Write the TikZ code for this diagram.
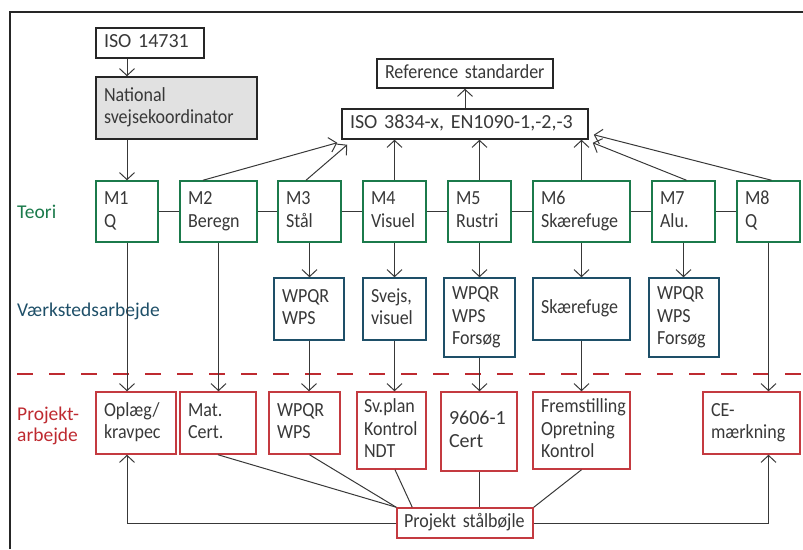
\documentclass[tikz,border=0pt]{standalone}
\usepackage{fontspec}
\setmainfont{Carlito}
\newfontfamily\narrowfont{Carlito}[FakeStretch=0.9]
\usetikzlibrary{arrows.meta,calc}
\definecolor{tgreen}{HTML}{1B7A4B}
\definecolor{tblue}{HTML}{1E4F68}
\definecolor{tred}{HTML}{BE2A30}
\definecolor{rborder}{HTML}{C43A40}
\definecolor{ink}{HTML}{383838}
\definecolor{fillgray}{HTML}{E1E1E1}
\frenchspacing
\begin{document}
\begin{tikzpicture}[x=1pt,y=-1pt,
  bx/.style={draw, rectangle, line width=1.5pt, inner xsep=8pt, inner ysep=0pt,
    align=left, text=ink, font=\narrowfont\fontsize{20}{22.5}\selectfont,
    execute at begin node={\strut\hyphenpenalty=10000\exhyphenpenalty=10000}, execute at end node=\strut},
  wide/.style={font=\fontsize{20}{22.5}\selectfont},
  kbx/.style={bx, draw=black!85},
  gbx/.style={bx, draw=tgreen, minimum height=61pt},
  bbx/.style={bx, draw=tblue},
  rbx/.style={bx, draw=rborder},
  lbl/.style={font=\fontsize{19.5}{21}\selectfont, inner sep=0pt, align=left},
  conn/.style={draw=ink, line width=1pt},
  arr/.style={conn, -{Straight Barb[length=7pt,width=15pt]}},
]
\useasboundingbox (0,0) rectangle (803,549);
% frame
\draw[line width=2pt, black!85] (10,549) -- (10,12) -- (803,12);
% separator
\coordinate (dl) at (17,374);
\coordinate (dr) at (803,374);
\draw[tred, line width=1.2pt, dash pattern=on 16pt off 16pt] (dl) -- (dr);

% top nodes
\node[kbx, wide, text width=92pt, minimum height=30pt] (iso14731) at (150,43) {ISO 14731};
\node[kbx, fill=fillgray, text width=145pt, minimum height=62pt] (natl) at (176.5,108) {National\\svejsekoordinator};
\node[kbx, text width=160pt, minimum height=29pt] (ref) at (465,73.5) {Reference standarder};
\node[kbx, wide, text width=230pt, minimum height=30pt] (iso) at (465,124) {ISO 3834-x, EN1090-1,-2,-3};

% Teori row
\node[gbx, text width=46pt] (m1) at (127,211.5) {M1\\Q};
\node[gbx, text width=61pt] (m2) at (218.5,211.5) {M2\\Beregn};
\node[gbx, text width=47pt] (m3) at (309.5,211.5) {M3\\Stål};
\node[gbx, text width=47pt] (m4) at (394.5,211.5) {M4\\Visuel};
\node[gbx, text width=47pt] (m5) at (479.5,211.5) {M5\\Rustri};
\node[gbx, text width=81pt] (m6) at (581.5,211.5) {M6\\Skærefuge};
\node[gbx, text width=47pt] (m7) at (683.5,211.5) {M7\\Alu.};
\node[gbx, text width=47pt] (m8) at (768.5,211.5) {M8\\Q};

% Vaerksted row
\node[bbx, text width=54pt, minimum height=62pt] (v1) at (309,309) {WPQR\\WPS};
\node[bbx, text width=47pt, minimum height=62pt] (v2) at (394.5,309) {Svejs,\\visuel};
\node[bbx, text width=55pt, minimum height=79pt] (v3) at (479.5,317.5) {WPQR\\WPS\\Forsøg};
\node[bbx, text width=81pt, minimum height=62pt] (v4) at (581.5,309) {Skærefuge};
\node[bbx, text width=54pt, minimum height=79pt] (v5) at (684,317.5) {WPQR\\WPS\\Forsøg};

% Projekt row
\node[rbx, text width=64pt, minimum height=62pt] (p1) at (136,423) {Oplæg/\\kravpec};
\node[rbx, text width=60pt, minimum height=62pt] (p2) at (218,423) {Mat.\\Cert.};
\node[rbx, text width=55pt, minimum height=62pt] (p3) at (304.5,423) {WPQR\\WPS};
\node[rbx, inner xsep=7pt, text width=55pt, minimum height=77pt] (p4) at (391.5,430.5) {Sv.plan\\Kontrol\\NDT};
\node[rbx, wide, text width=60pt, minimum height=79pt] (p5) at (479,431.5) {9606-1\\Cert};
\node[rbx, text width=81pt, minimum height=77pt] (p6) at (581.5,430.5) {Fremstilling\\Opretning\\Kontrol};
\node[rbx, text width=81pt, minimum height=62pt] (p7) at (751.5,423) {CE-\\mærkning};
\node[rbx, inner xsep=6pt, text width=124pt, minimum height=30pt] (bl) at (465,523) {\hspace{1pt}Projekt stålbøjle};

% side labels
\node[lbl, text=tgreen, anchor=base west] (lteori) at (17,218) {Teori};
\node[lbl, text=tblue, anchor=base west] (lverk) at (17,316.5) {Værkstedsarbejde};
\node[lbl, text=tred, anchor=west] (lproj) at (17,426) {Projekt-\\arbejde};

% connectors top
\draw[arr] (iso14731.south -| m1.north) -- (natl.north -| m1.north);
\draw[arr] (natl.south -| m1.north) -- (m1.north);
\draw[arr] (iso.north) -- (ref.south);

% horizontal links
\draw[conn] (m1.east) -- (m2.west);
\draw[conn] (m2.east) -- (m3.west);
\draw[conn] (m3.east) -- (m4.west);
\draw[conn] (m4.east) -- (m5.west);
\draw[conn] (m5.east) -- (m6.west);
\draw[conn] (m6.east) -- (m7.west);
\draw[conn] (m7.east) -- (m8.west);

% up to ISO 3834
\draw[arr] ([xshift=-15.5pt]m2.north) -- ($(iso.south west)+(-4,3)$);
\draw[arr] ([xshift=-3.5pt]m3.north) -- ($(iso.south west)+(6,5)$);
\draw[arr] (m4.north) -- (m4.north |- iso.south);
\draw[arr] (m5.north) -- (m5.north |- iso.south);
\draw[arr] (m6.north) -- (m6.north |- iso.south);
\draw[arr] ([xshift=3pt]m7.north) -- ($(iso.south east)+(4,3)$);
\draw[arr] ([xshift=3pt]m8.north) -- ($(iso.south east)+(5,-5)$);

% down arrows
\draw[arr] (m1.south) -- (m1.south |- p1.north);
\draw[arr] (m2.south) -- (m2.south |- p2.north);
\draw[arr] (m3.south) -- (m3.south |- v1.north);
\draw[arr] (m4.south) -- (m4.south |- v2.north);
\draw[arr] (m5.south) -- (m5.south |- v3.north);
\draw[arr] (m6.south) -- (m6.south |- v4.north);
\draw[arr] (m7.south) -- (m7.south |- v5.north);
\draw[arr] (m8.south) -- (m8.south |- p7.north);
\draw[arr] (v1.south) -- (v1.south |- p3.north);
\draw[arr] (v2.south) -- (v2.south |- p4.north);
\draw[arr] (v3.south) -- (v3.south |- p5.north);
\draw[arr] (v4.south) -- (v4.south |- p6.north);

% to Projekt staalboejle
\draw[conn] (p2.south) -- (bl.north west);
\draw[conn] ([xshift=5pt]p3.south) -- (bl.north west);
\draw[conn] ([xshift=3.5pt]p4.south) -- ([xshift=16pt]bl.north west);
\draw[conn] (p5.south) -- (p5.south |- bl.north);
\draw[conn] (p6.south) -- (bl.north east);
\draw[arr] (bl.west) -| (m1.south |- p1.south);
\draw[arr] (bl.east) -| (m8.south |- p7.south);
\end{tikzpicture}
\end{document}
